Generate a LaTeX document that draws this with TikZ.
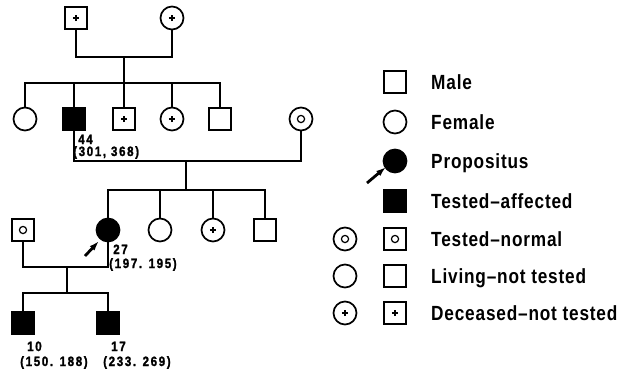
\documentclass[tikz,border=0pt]{standalone}
\usepackage{fontspec}
\usetikzlibrary{arrows.meta}
\newfontfamily\labfont[FakeStretch=0.84,LetterSpace=4]{Liberation Sans Bold}
\newfontfamily\numfont[FakeStretch=0.86,LetterSpace=12,FakeBold=1.5]{Liberation Sans Bold}
\tikzset{
  x=1pt, y=-1pt,
  sym/.style={draw=black, line width=1.7pt, inner sep=0pt, outer sep=0pt},
  sq/.style={sym, rectangle, minimum size=22pt},
  ci/.style={sym, circle, minimum size=23pt},
  aff/.style={fill=black},
  dec/.style={path picture={\draw[line width=2.1pt] (path picture bounding box.center) +(-3.2pt,0) -- +(3.2pt,0) (path picture bounding box.center) +(0,-3.2pt) -- +(0,3.2pt);}},
  tn/.style={path picture={\draw[line width=1.2pt] (path picture bounding box.center) circle (3.6pt);}},
  conn/.style={line width=1.6pt},
  prop/.style={line width=2.8pt, -{Latex[length=10pt,width=6.5pt]}},
  num/.style={inner sep=0pt, anchor=base west, font=\numfont\fontsize{13.5}{14}\selectfont},
  leg/.style={inner sep=0pt, anchor=base west, font=\labfont\fontsize{20.5}{22}\selectfont}
}
\begin{document}
\begin{tikzpicture}
\useasboundingbox (0,0) rectangle (632,370);
% generation I
\node[sq,dec] (I1) at (76,18) {};
\node[ci,dec] (I2) at (172,18) {};
% generation II
\node[ci] (II1) at (25,119) {};
\node[sq,aff] (II2) at (74,119) {};
\node[sq,dec] (II3) at (124,119) {};
\node[ci,dec] (II4) at (172,119) {};
\node[sq] (II5) at (220,119) {};
\node[ci,tn] (II6) at (301,119) {};
% generation III
\node[sq,tn] (III0) at (23,230) {};
\node[ci,aff] (III1) at (108,230) {};
\node[ci] (III2) at (160,230) {};
\node[ci,dec] (III3) at (213,230) {};
\node[sq] (III4) at (265,230) {};
% generation IV
\node[sq,aff] (IV1) at (23,323) {};
\node[sq,aff] (IV2) at (108,323) {};
% connectors
\coordinate (m1) at (124,57);
\coordinate (s1) at (124,83);
\draw[conn] (I1) |- (m1) -| (I2);
\draw[conn] (m1) -- (s1);
\draw[conn] (II1) |- (s1) -| (II5);
\draw[conn] (II2) -- (II2 |- s1);
\draw[conn] (II3) -- (II3 |- s1);
\draw[conn] (II4) -- (II4 |- s1);
\coordinate (m2) at (186,161);
\coordinate (s2) at (186,190);
\draw[conn] (II2) |- (m2) -| (II6);
\draw[conn] (m2) -- (s2);
\draw[conn] (III1) |- (s2) -| (III4);
\draw[conn] (III2) -- (III2 |- s2);
\draw[conn] (III3) -- (III3 |- s2);
\coordinate (m3) at (67,267);
\coordinate (s3) at (67,293);
\draw[conn] (III0) |- (m3) -| (III1);
\draw[conn] (m3) -- (s3);
\draw[conn] (IV1) |- (s3) -| (IV2);
% propositus arrow
\coordinate (pa) at (85,256);
\coordinate (pb) at (99,241);
\draw[prop] (pa) -- (pb);
% numbers
\node[num] (t44) at (78,144) {44};
\node[num] (v44) at (73,156) {(301, 368)};
\node[num] (t27) at (113,254) {27};
\node[num] (v27) at (109,268) {(197. 195)};
\node[num] (t10) at (27,351) {10};
\node[num] (v10) at (20,366) {(150. 188)};
\node[num] (t17) at (111,351) {17};
\node[num] (v17) at (103,366) {(233. 269)};
% legend
\node[sq] (L1) at (395,82) {};
\node[leg] (L1t) at (431,89) {Male};
\node[ci] (L2) at (395,122) {};
\node[leg] (L2t) at (431,129) {Female};
\node[ci,aff] (L3) at (395,161) {};
\coordinate (la) at (367,183);
\coordinate (lb) at (386,167);
\draw[prop] (la) -- (lb);
\node[leg] (L3t) at (431,168) {Propositus};
\node[sq,aff] (L4) at (395,201) {};
\node[leg] (L4t) at (431,208) {Tested–affected};
\node[ci,tn] (L5a) at (345,239) {};
\node[sq,tn] (L5b) at (395,239) {};
\node[leg] (L5t) at (431,246) {Tested–normal};
\node[ci] (L6a) at (345,276) {};
\node[sq] (L6b) at (395,276) {};
\node[leg] (L6t) at (431,283) {Living–not tested};
\node[ci,dec] (L7a) at (345,313) {};
\node[sq,dec] (L7b) at (395,313) {};
\node[leg] (L7t) at (431,320) {Deceased–not tested};
\end{tikzpicture}
\end{document}
